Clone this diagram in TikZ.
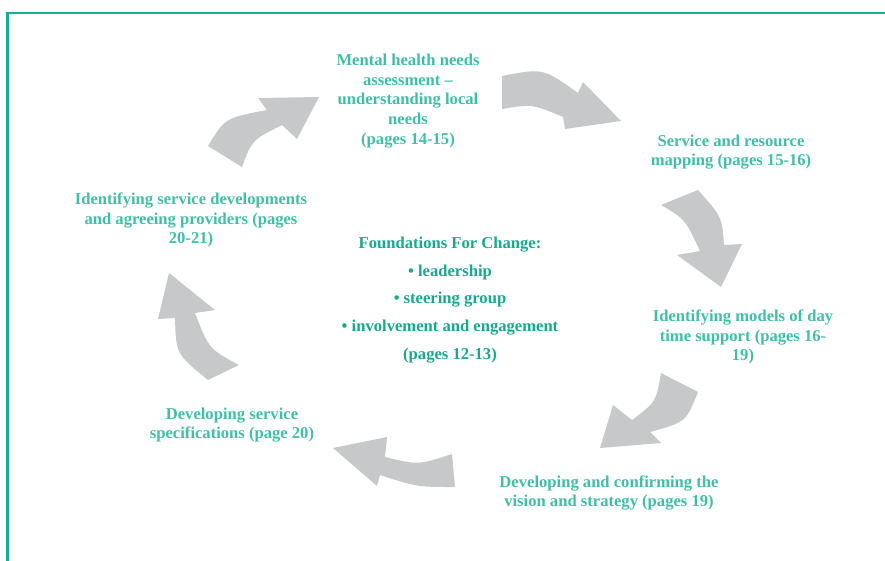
\documentclass[tikz,border=0pt]{standalone}
\usepackage{fontspec}
\setmainfont{Liberation Serif}
\definecolor{frameteal}{HTML}{12B09A}
\definecolor{stepteal}{HTML}{3FBFA7}
\definecolor{coreteal}{HTML}{16A98F}
\definecolor{arrowgrey}{HTML}{C7C8CA}
\tikzset{
  steptext/.style={text=stepteal, font=\bfseries\fontsize{16.6}{19.8}\selectfont, align=center, inner sep=0pt},
  coretext/.style={text=coreteal, font=\bfseries\fontsize{16.6}{27.6}\selectfont, align=center, inner sep=0pt},
  bigarrow/.style={fill=arrowgrey, draw=none},
  framerule/.style={draw=frameteal, line width=2.4pt}
}
\begin{document}
\begin{tikzpicture}[x=1pt,y=-1pt]
\useasboundingbox (0,0) rectangle (885,560);
% frame
\coordinate (fc) at (7.5,13);
\coordinate (fr) at (886,13);
\coordinate (fb) at (7.5,561);
\draw[framerule] (fr) -- (fc) -- (fb);

% step texts
\node[steptext] (n1) at (408,101) {Mental health needs\\assessment --\\understanding local\\needs\\(pages 14-15)};
\node[steptext] (n2) at (731,152) {Service and resource\\mapping (pages 15-16)};
\node[steptext] (n3) at (743,337) {Identifying models of day\\time support (pages 16-\\19)};
\node[steptext] (n4) at (609,493) {Developing and confirming the\\vision and strategy (pages 19)};
\node[steptext] (n5) at (232,425) {Developing service\\specifications (page 20)};
\node[steptext] (n6) at (191,220) {Identifying service developments\\and agreeing providers (pages\\20-21)};
\node[coretext] (c) at (450,300) {Foundations For Change:\\\textbullet{} leadership\\\textbullet{} steering group\\\textbullet{} involvement and engagement\\(pages 12-13)};

% arrow 1 (n6 -> n1)
\fill[bigarrow] (208,146) .. controls (225,118) .. (267,110) -- (258,98) -- (319,97) -- (297,139) -- (282,125) .. controls (252,140) .. (242,167) -- cycle;
% arrow 2 (n1 -> n2)
\fill[bigarrow] (502,76) .. controls (543,68) .. (578,93) -- (583,82) -- (621,121) -- (565,129) -- (563,117) .. controls (532,104) .. (502,109) -- cycle;
% arrow 3 (n2 -> n3)
\fill[bigarrow] (698,190) .. controls (722,217) .. (724,245) -- (742,244) -- (721,287) -- (677,255) -- (700,251) .. controls (685,219) .. (661,205) -- cycle;
% arrow 4 (n3 -> n4)
\fill[bigarrow] (698,392) .. controls (686,422) .. (650,432) -- (661,443) -- (600,448) -- (613,405) -- (632,420) .. controls (656,402) .. (661,373) -- cycle;
% arrow 5 (n4 -> n5)
\fill[bigarrow] (452,454) .. controls (418,465) .. (385,457) -- (387,437) -- (333,448) -- (377,486) -- (380,475) .. controls (417,487) .. (455,487) -- cycle;
% arrow 6 (n5 -> n6)
\fill[bigarrow] (208,380) .. controls (176,354) .. (175,318) -- (158,319) -- (169,273) -- (215,310) -- (195,313) .. controls (209,349) .. (239,365) -- cycle;
\end{tikzpicture}
\end{document}
